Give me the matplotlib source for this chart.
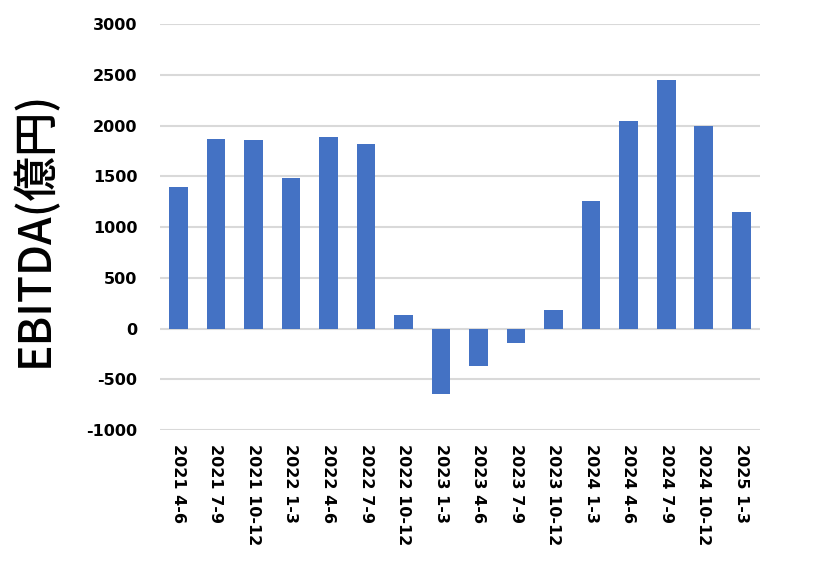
import matplotlib
matplotlib.use("Agg")
import matplotlib.pyplot as plt

# quarterly EBITDA (100M yen)
quarters = ["2021 4-6", "2021 7-9", "2021 10-12", "2022 1-3", "2022 4-6", "2022 7-9",
            "2022 10-12", "2023 1-3", "2023 4-6", "2023 7-9", "2023 10-12", "2024 1-3",
            "2024 4-6", "2024 7-9", "2024 10-12", "2025 1-3"]
ebitda = [1400, 1870, 1860, 1480, 1890, 1820, 130, -645, -368, -141, 181, 1255,
          2045, 2450, 1995, 1148]
yticks = [-1000, -500, 0, 500, 1000, 1500, 2000, 2500, 3000]

plt.rcParams['font.family'] = ['Noto Sans CJK JP', 'DejaVu Sans']
plt.rcParams['axes.unicode_minus'] = False

fig = plt.figure(figsize=(8.36, 5.63), dpi=100)
ax = fig.add_axes([0.191, 0.236, 0.718, 0.721])

x = range(len(quarters))
ax.bar(x, ebitda, width=0.5, color="#4472C4", zorder=3)

ax.set_xlim(-0.5, len(quarters) - 0.5)
ax.set_ylim(-1000, 3000)
ax.set_yticks(yticks)
ax.set_xticks(list(x))
ax.set_xticklabels(quarters, rotation=270, fontsize=11.5, fontweight="bold",
                   family=['DejaVu Sans'])
for lab in ax.get_yticklabels():
    lab.set_fontweight("bold")
    lab.set_fontsize(11.5)
    lab.set_family(['DejaVu Sans'])

ax.grid(axis="y", color="#d9d9d9", linewidth=1.5, zorder=0)
ax.tick_params(axis="both", length=0)
ax.tick_params(axis="y", pad=16)
ax.tick_params(axis="x", pad=10)
for s in ax.spines.values():
    s.set_visible(False)

ax.set_ylabel("EBITDA(億円)", fontsize=32, fontweight="medium")
ax.yaxis.set_label_coords(-0.17, 0.495)

fig.savefig("out.png", dpi=100)
